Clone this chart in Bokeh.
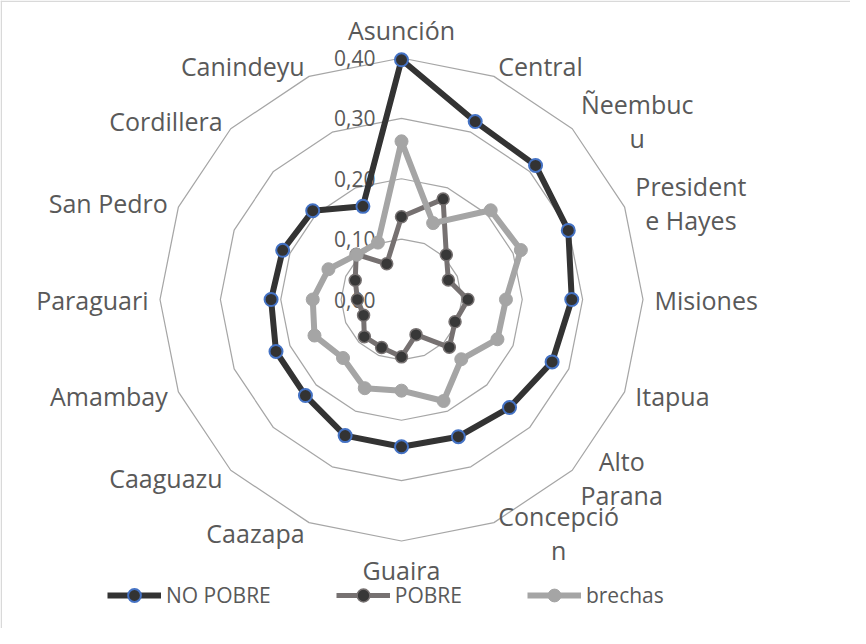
import math
from bokeh.plotting import figure
from bokeh.models import Range1d, Span, Legend, LegendItem
from bokeh.core.properties import value
from bokeh.embed import file_html
from bokeh.resources import INLINE

# ---------------- data ----------------
categories = ["Asunción", "Central", "Ñeembuc\nu", "President\ne Hayes", "Misiones",
              "Itapua", "Alto\nParana", "Concepció\nn", "Guaira", "Caazapa",
              "Caaguazu", "Amambay", "Paraguari", "San Pedro", "Cordillera", "Canindeyu"]
no_pobre = [0.397, 0.319, 0.314, 0.299, 0.282, 0.270, 0.253, 0.246,
            0.244, 0.244, 0.225, 0.225, 0.216, 0.213, 0.208, 0.167]
pobre = [0.137, 0.180, 0.105, 0.084, 0.110, 0.096, 0.112, 0.063,
         0.095, 0.086, 0.087, 0.068, 0.073, 0.083, 0.106, 0.064]
brechas = [0.262, 0.137, 0.209, 0.214, 0.173, 0.172, 0.140, 0.182,
           0.151, 0.159, 0.137, 0.156, 0.147, 0.131, 0.105, 0.102]
ticks = [0.0, 0.1, 0.2, 0.3, 0.4]
tick_labels = ["0,00", "0,10", "0,20", "0,30", "0,40"]
series_names = ["NO POBRE", "POBRE", "brechas"]

# ---------------- layout ----------------
W, H = 850, 628
CX, CY = 401, 299          # centre of the radar in figure pixels (from top-left)
PX = 603.75                # pixels per data unit
FONT = "Open Sans"
TXT = "#595959"
CAT_FS = 25
TICK_FS = 21
LEG_FS = 21

p = figure(width=W, height=H, output_backend="svg", toolbar_location=None,
           x_range=Range1d(-CX / PX, (W - CX) / PX),
           y_range=Range1d(-(H - CY) / PX, CY / PX),
           min_border=0, outline_line_color=None, background_fill_color="white",
           border_fill_color="white")
p.axis.visible = False
p.xaxis.visible = False
p.yaxis.visible = False
p.grid.visible = False

n = len(categories)
angles = [2 * math.pi * i / n for i in range(n)]

def to_xy(vals):
    xs = [v * math.sin(a) for v, a in zip(vals, angles)]
    ys = [v * math.cos(a) for v, a in zip(vals, angles)]
    return xs, ys

# chart-area border (top and left visible in the reference)
p.add_layout(Span(location=-CX / PX + 0.75 / PX, dimension="height",
                  line_color="#d9d9d9", line_width=1.5))
p.add_layout(Span(location=CY / PX - 0.75 / PX, dimension="width",
                  line_color="#d9d9d9", line_width=1.5))

# grid rings
ring_xs, ring_ys = [], []
for t in ticks[1:]:
    xs, ys = to_xy([t] * n)
    ring_xs.append(xs + [xs[0]])
    ring_ys.append(ys + [ys[0]])
p.multi_line(ring_xs, ring_ys, line_color="#a6a6a6", line_width=1.25)

# tick labels
p.text(x=[-26 / PX] * len(ticks), y=ticks, text=tick_labels,
       text_font=value(FONT), text_font_size=f"{TICK_FS}px", text_color=TXT,
       text_align="right", text_baseline="middle")

# category labels
CW = {" ": 532, "A": 1296, "B": 1327, "C": 1292, "E": 1139, "H": 1511, "N": 1626,
      "O": 1599, "P": 1255, "R": 1292, "Ñ": 1626, "a": 1139, "b": 1255, "c": 975,
      "d": 1255, "e": 1149, "g": 1122, "h": 1257, "i": 518, "l": 518, "m": 1905,
      "n": 1257, "o": 1237, "ó": 1237, "p": 1255, "r": 836, "s": 977, "t": 723,
      "u": 1257, "y": 1026, "z": 979}

def text_w(s, fs):
    return sum(CW.get(ch, 1100) for ch in s) / 2048 * fs

R_LAB = 253 / PX
LH = 1.36 * CAT_FS
lx, ly, lt, la, lb = [], [], [], [], []
for cat, a in zip(categories, angles):
    s, c = math.sin(a), math.cos(a)
    ax, ay = R_LAB * s, R_LAB * c
    lines = cat.split("\n")
    if abs(s) < 0.1:
        lx.append(ax); ly.append(ay); lt.append(cat); la.append("center")
        lb.append("bottom" if c > 0 else "top")
    elif len(lines) == 1:
        lx.append(ax); ly.append(ay); lt.append(cat)
        la.append("left" if s > 0 else "right"); lb.append("middle")
    else:
        wb = max(text_w(l, CAT_FS) for l in lines)
        xc = ax + (1 if s > 0 else -1) * wb / 2 / PX
        for k, l in enumerate(lines):
            lx.append(xc)
            ly.append(ay + ((len(lines) - 1) / 2 - k) * LH / PX)
            lt.append(l); la.append("center"); lb.append("middle")

p.text(x=lx, y=ly, text=lt, text_align=la, text_baseline=lb,
       text_font=value(FONT), text_font_size=f"{CAT_FS}px", text_color=TXT)

# series
styles = [
    dict(line="#333333", lw=6, fill="#333333", outline="#4472C4", olw=2, size=13),
    dict(line="#767171", lw=5, fill="#383838", outline="#767171", olw=1.5, size=12),
    dict(line="#a5a5a5", lw=6, fill="#a5a5a5", outline="#a5a5a5", olw=1, size=13),
]
items = []
for name, vals, st in zip(series_names, [no_pobre, pobre, brechas], styles):
    xs, ys = to_xy(vals)
    lr = p.line(xs + [xs[0]], ys + [ys[0]], line_color=st["line"], line_width=st["lw"],
                line_join="round")
    sr = p.scatter(xs, ys, size=st["size"], fill_color=st["fill"],
                   line_color=st["outline"], line_width=st["olw"])
    items.append(LegendItem(label=name, renderers=[lr, sr]))

legend = Legend(items=items, orientation="horizontal", location=(107, 17),
                glyph_width=54, glyph_height=32, label_standoff=5, spacing=65,
                padding=0, margin=0, border_line_color=None,
                background_fill_alpha=0,
                label_text_font=FONT, label_text_font_size=f"{LEG_FS}px",
                label_text_color=TXT)
p.add_layout(legend)

open("out.html", "w").write(file_html(p, INLINE))
